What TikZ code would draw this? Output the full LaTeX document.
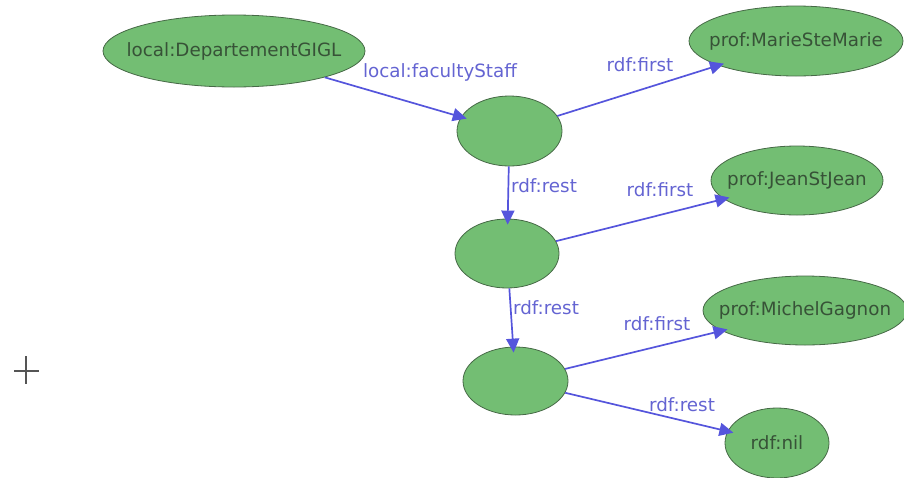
\documentclass[tikz,border=0pt]{standalone}
\usepackage{fontspec}
\setmainfont{DejaVu Sans}
\usetikzlibrary{shapes.geometric,arrows.meta}
\definecolor{nodefill}{RGB}{115,190,115}
\definecolor{nodeline}{RGB}{70,105,70}
\definecolor{nodetext}{RGB}{55,82,55}
\definecolor{edgecol}{RGB}{85,85,220}
\definecolor{labcol}{RGB}{100,100,210}
\definecolor{crossgray}{RGB}{85,85,85}
\begin{document}
\begin{tikzpicture}[x=1pt,y=-1pt,
  res/.style={ellipse, fill=nodefill, draw=nodeline, line width=0.8pt, inner sep=0pt},
  restext/.style={text=nodetext, font=\fontsize{18.3}{21}\selectfont, inner sep=0pt},
  prop/.style={draw=edgecol, line width=1.7pt, shorten >=-6pt, -{Triangle[length=14pt,width=13pt]}},
  plabel/.style={text=labcol, font=\fontsize{18.3}{21}\selectfont, inner sep=0pt}]
\useasboundingbox (0,0) rectangle (904,477);
% nodes
\node[res, minimum width=262pt, minimum height=72pt, label={[restext]center:local:DepartementGIGL}] (dept) at (234,51) {};
\node[res, minimum width=105pt, minimum height=70pt] (b1) at (509.5,131) {};
\node[res, minimum width=214pt, minimum height=70pt, label={[restext]center:prof:MarieSteMarie}] (marie) at (796,41) {};
\node[res, minimum width=172pt, minimum height=69pt, label={[restext]center:prof:JeanStJean}] (jean) at (797,180.5) {};
\node[res, minimum width=104pt, minimum height=69pt] (b2) at (507,253.5) {};
\node[res, minimum width=204pt, minimum height=69pt, label={[restext]center:prof:MichelGagnon}] (michel) at (805,310.5) {};
\node[res, minimum width=105pt, minimum height=68pt] (b3) at (515.5,381) {};
\node[res, minimum width=104pt, minimum height=70pt, label={[restext]center:rdf:nil}] (nil) at (777,443) {};
% edges
\draw[prop] (dept) -- (b1);
\draw[prop] (b1) -- (marie);
\draw[prop] (b1) -- (b2);
\draw[prop] (b2) -- (jean);
\draw[prop] (b2) -- (b3);
\draw[prop] (b3) -- (michel);
\draw[prop] (b3) -- (nil);
% edge labels
\node[plabel] (l1) at (440,72) {local:facultyStaff};
\node[plabel] (l2) at (640,65) {rdf:first};
\node[plabel] (l3) at (544,186) {rdf:rest};
\node[plabel] (l4) at (660,190) {rdf:first};
\node[plabel] (l5) at (546,308) {rdf:rest};
\node[plabel] (l6) at (657,324) {rdf:first};
\node[plabel] (l7) at (682,405) {rdf:rest};
% crosshair
\draw[crossgray, line width=2pt] (14,370.5) -- (39,370.5);
\draw[crossgray, line width=2pt] (25.5,356) -- (25.5,384);
\end{tikzpicture}
\end{document}
